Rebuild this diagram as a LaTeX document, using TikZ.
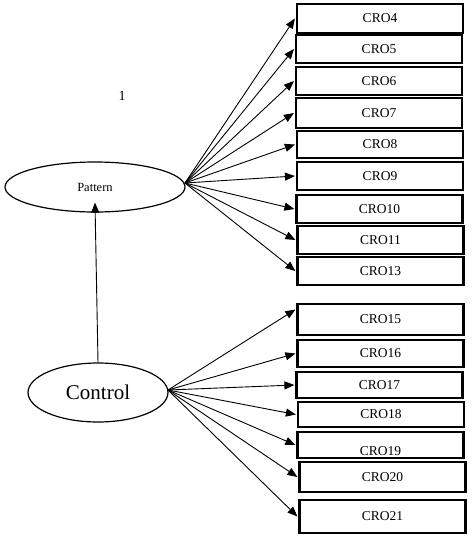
\documentclass[tikz,border=0pt]{standalone}
\usepackage{fontspec}
\setmainfont{Liberation Serif}
\usetikzlibrary{arrows.meta,shapes.geometric}
\begin{document}
\begin{tikzpicture}[x=1pt,y=-1pt,
  crobox/.style={draw,line width=2.2pt,minimum width=166pt,inner sep=0pt,font=\fontsize{13.5}{13.5}\selectfont},
  oval/.style={draw,ellipse,line width=1.2pt,inner sep=0pt},
  arr/.style={line width=0.9pt,-{Triangle[length=10pt,width=8pt]}}]
\useasboundingbox (0,0) rectangle (472,539);
\node[oval,minimum width=180pt,minimum height=50pt,font=\fontsize{12.5}{13}\selectfont] (pat) at (95,187) {Pattern};
\node[oval,minimum width=140pt,minimum height=59pt,font=\fontsize{21}{22}\selectfont] (con) at (98,392.5) {Control};
\node[font=\fontsize{14}{14}\selectfont] (one) at (122,96) {1};
\node[crobox,minimum height=29pt] (c4) at (380,18.5) {CRO4};
\node[crobox,minimum height=28pt] (c5) at (379,49) {CRO5};
\node[crobox,minimum height=28pt] (c6) at (379,81) {CRO6};
\node[crobox,minimum height=30pt] (c7) at (379,113) {CRO7};
\node[crobox,minimum height=27pt] (c8) at (380,144.5) {CRO8};
\node[crobox,minimum height=28pt] (c9) at (380,176) {CRO9};
\node[crobox,minimum height=28pt] (c10) at (379.5,209) {CRO10};
\node[crobox,minimum height=28pt] (c11) at (380.5,240) {CRO11};
\node[crobox,minimum height=28pt] (c13) at (380.5,271) {CRO13};
\node[crobox,minimum height=31pt] (c15) at (380.5,319.5) {CRO15};
\node[crobox,minimum height=27pt] (c16) at (380.5,353.5) {CRO16};
\node[crobox,minimum height=26pt] (c17) at (379.5,385) {CRO17};
\node[crobox,minimum height=25pt] (c18) at (381,414.5) {CRO18};
\node[crobox,minimum height=26pt] (c19) at (380.5,445) {};
\begin{scope}
\clip (c19.south west) rectangle (c19.north east);
\node[font=\fontsize{13.5}{13.5}\selectfont] (t19) at (380.5,451) {CRO19};
\end{scope}
\node[crobox,minimum height=26pt] at (380.5,445) {};
\node[crobox,minimum height=30pt] (c20) at (382.5,477) {CRO20};
\node[crobox,minimum height=33pt] (c21) at (382.5,516.5) {CRO21};
\coordinate (pf) at (185,183);
\coordinate (cf) at (168,390);
\foreach \t in {c4,c5,c6,c7,c8,c9,c10,c11,c13} \draw[arr] (pf) -- ([xshift=-1pt]\t.west);
\draw[arr] (cf) -- ([xshift=-1pt,yshift=10pt]c15.west);
\foreach \t in {c16,c17,c18,c19,c20,c21} \draw[arr] (cf) -- ([xshift=-1pt]\t.west);
\draw[arr] (con.north) -- ([yshift=10pt]pat.south);
\end{tikzpicture}
\end{document}
